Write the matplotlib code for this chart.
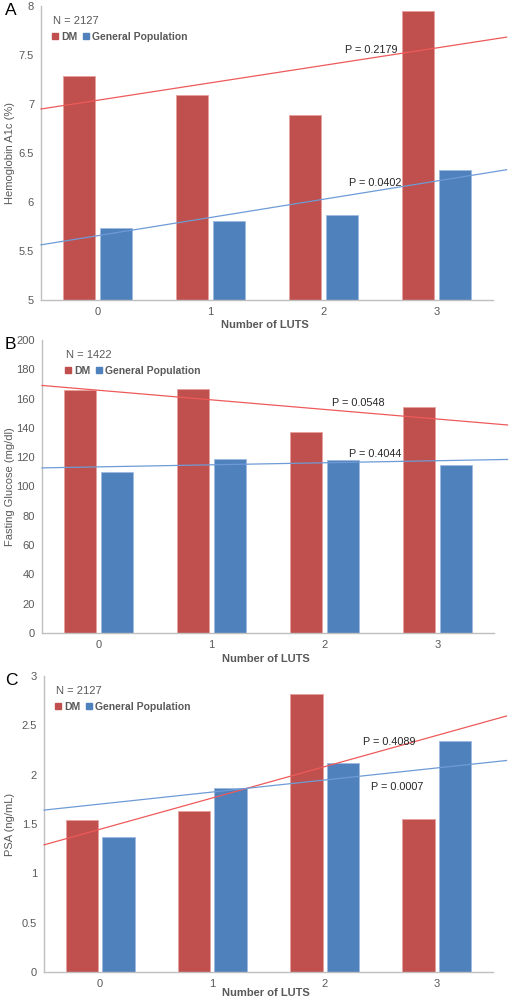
import numpy as np
import matplotlib
matplotlib.use("Agg")
import matplotlib.pyplot as plt
from matplotlib.lines import Line2D

plt.rcParams['font.family'] = ['Liberation Sans', 'DejaVu Sans']

# Data
luts = [0, 1, 2, 3]

a1c_dm = [7.29, 7.09, 6.89, 7.95]
a1c_gp = [5.73, 5.81, 5.87, 6.33]

glu_dm = [166, 166.5, 137, 154]
glu_gp = [110, 119, 118, 115]

psa_dm = [1.54, 1.63, 2.82, 1.55]
psa_gp = [1.37, 1.86, 2.12, 2.34]

RED = '#C0504D'
BLUE = '#4F81BD'
GREY = '#595959'

fig = plt.figure(figsize=(5.09, 10), dpi=100)

panels = [
    dict(letter='A', dm=a1c_dm, gp=a1c_gp, ylabel='Hemoglobin A1c (%)', ylim=(5, 8),
         yticks=[5, 5.5, 6, 6.5, 7, 7.5, 8], ytl=['5', '5.5', '6', '6.5', '7', '7.5', '8'],
         n='N = 2127', p_red='P = 0.2179', p_blue='P = 0.0402', swap=False,
         rect=[41/509, 0.700, 452/509, 0.294], nx=53, xl=325,
         pr=(345, 50), pb=(349, 183)),
    dict(letter='B', dm=glu_dm, gp=glu_gp, ylabel='Fasting Glucose (mg/dl)', ylim=(0, 200),
         yticks=list(range(0, 201, 20)), ytl=[str(v) for v in range(0, 201, 20)],
         n='N = 1422', p_red='P = 0.0548', p_blue='P = 0.4044', swap=False,
         rect=[42/509, 0.367, 452/509, 0.293], nx=66, xl=659,
         pr=(332, 403), pb=(349, 454)),
    dict(letter='C', dm=psa_dm, gp=psa_gp, ylabel='PSA (ng/mL)', ylim=(0, 3),
         yticks=[0, 0.5, 1, 1.5, 2, 2.5, 3], ytl=['0', '0.5', '1', '1.5', '2', '2.5', '3'],
         n='N = 2127', p_red='P = 0.4089', p_blue='P = 0.0007', swap=True,
         rect=[44/509, 0.028, 449/509, 0.296], nx=56, xl=993,
         pr=(363, 742), pb=(371, 787)),
]

x = np.array(luts, dtype=float)
w = 0.29
off = 0.163

for p in panels:
    ax = fig.add_axes(p['rect'])
    ax.bar(x - off, p['dm'], w, color=RED, edgecolor='#E8A09E', linewidth=0.6, zorder=2)
    ax.bar(x + off, p['gp'], w, color=BLUE, edgecolor='#9DBBE0', linewidth=0.6, zorder=2)

    # linear trend lines (in panel C the colours are swapped in the original)
    xs = np.array([-0.5, 3.62])
    fit_dm = np.polyval(np.polyfit(x, p['dm'], 1), xs)
    fit_gp = np.polyval(np.polyfit(x, p['gp'], 1), xs)
    if p['swap']:
        red_line, blue_line = fit_gp, fit_dm
    else:
        red_line, blue_line = fit_dm, fit_gp
    ax.plot(xs, red_line, color='#EE5A5A', lw=0.9, clip_on=False, zorder=3)
    ax.plot(xs, blue_line, color='#6E9BD6', lw=0.9, clip_on=False, zorder=3)

    ax.set_xlim(-0.5, 3.5)
    ax.set_ylim(*p['ylim'])
    ax.set_yticks(p['yticks'])
    ax.set_yticklabels(p['ytl'])
    ax.set_xticks(luts)
    ax.tick_params(length=0, labelsize=8, labelcolor=GREY, pad=5)
    for s in ['top', 'right']:
        ax.spines[s].set_visible(False)
    for s in ['left', 'bottom']:
        ax.spines[s].set_color('#BFBFBF')
        ax.spines[s].set_linewidth(1.0)

    bb = ax.get_position()
    # axis titles
    fig.text(bb.x0 + bb.width / 2 - 0.005, 1 - p['xl'] / 1000, 'Number of LUTS', fontsize=8,
             color=GREY, fontweight='bold', ha='center', va='center')
    fig.text(10 / 509, (bb.y0 + bb.y1) / 2, p['ylabel'], fontsize=8, color=GREY,
             rotation=90, ha='center', va='center')

    # panel letter
    fig.text(5 / 509, bb.y1 + 0.003, p['letter'], fontsize=12.5, ha='left', va='top')

    ax.text((p['nx'] - bb.x0 * 509) / (bb.width * 509), 0.95, p['n'],
            transform=ax.transAxes, fontsize=8, color=GREY, ha='left', va='center')
    handles = [Line2D([], [], marker='s', ls='', color=RED, markersize=4.2),
               Line2D([], [], marker='s', ls='', color=BLUE, markersize=4.2)]
    leg = ax.legend(handles, ['DM', 'General Population'], loc='center left',
                    bbox_to_anchor=((p['nx'] - 1 - bb.x0 * 509) / (bb.width * 509), 0.895),
                    ncol=2, frameon=False,
                    handlelength=0.6, handletextpad=0.3, columnspacing=0.5,
                    borderaxespad=0, borderpad=0,
                    prop={'size': 7.5, 'weight': 'bold'})
    for t in leg.get_texts():
        t.set_color(GREY)

    fig.text(p['pr'][0] / 509, 1 - p['pr'][1] / 1000, p['p_red'], fontsize=7.8,
             color='#262626', ha='left', va='center')
    fig.text(p['pb'][0] / 509, 1 - p['pb'][1] / 1000, p['p_blue'], fontsize=7.8,
             color='#262626', ha='left', va='center')

fig.savefig('out.png', dpi=100)
